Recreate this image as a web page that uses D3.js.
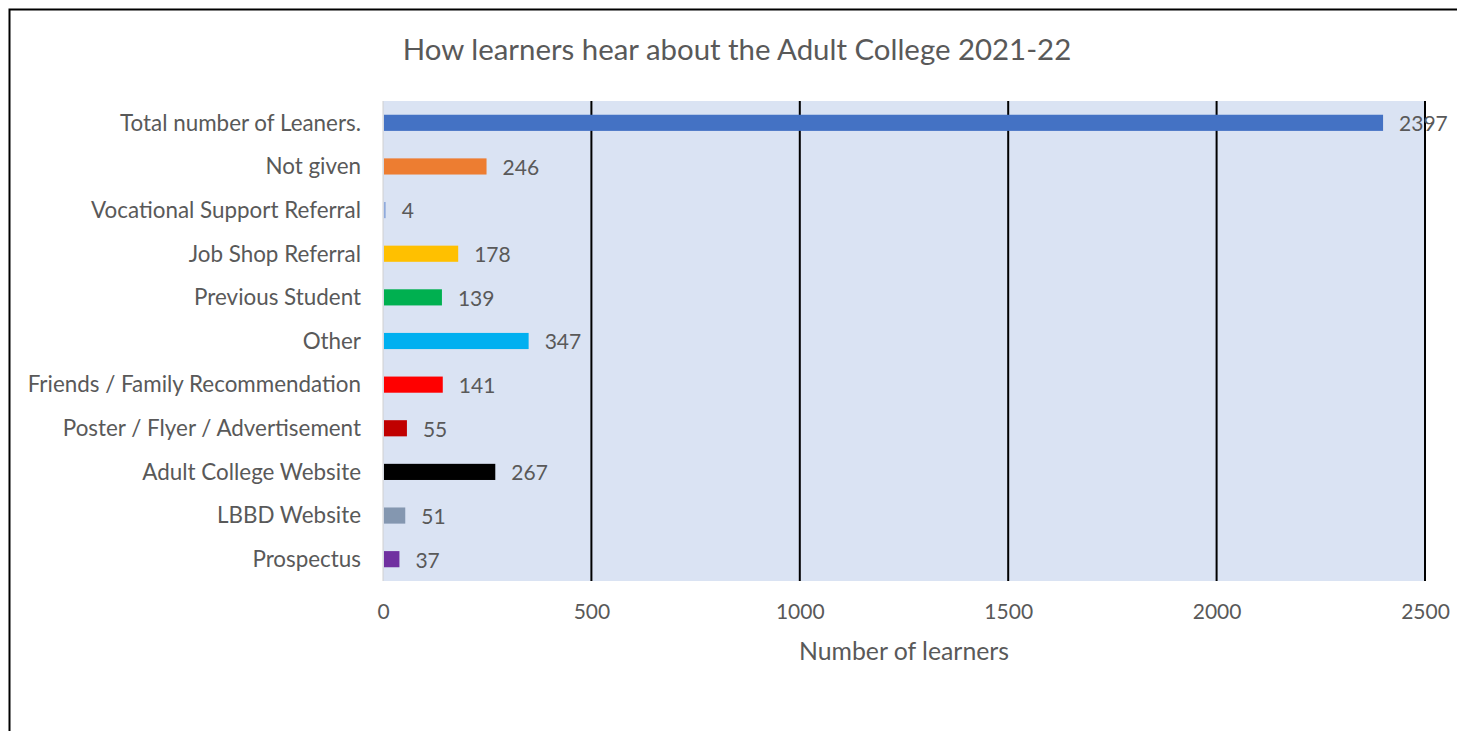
<!DOCTYPE html>
<html>
<head>
<meta charset="utf-8">
<script src="https://cdn.jsdelivr.net/npm/d3@7"></script>
<style>
  body { margin: 0; background: #fff; }
  text { font-family: Lato, "Open Sans", sans-serif; fill: #595959; }
</style>
</head>
<body>
<svg id="chart"></svg>
<script>
const categories = [
    "Total number of Leaners.",
    "Not given ",
    "Vocational Support Referral",
    "Job Shop Referral",
    "Previous Student",
    "Other",
    "Friends / Family Recommendation",
    "Poster / Flyer / Advertisement",
    "Adult College Website",
    "LBBD Website",
    "Prospectus"
];
const values = [2397, 246, 4, 178, 139, 347, 141, 55, 267, 51, 37];
const barColors = ["#4472c4", "#ed7d31", "#8faadc", "#ffc000", "#00b050", "#00b0f0",
    "#ff0000", "#c00000", "#000000", "#8497b0", "#7030a0"];
const ticks = [0, 500, 1000, 1500, 2000, 2500];

const width = 1457;
const height = 731;
const margin = { top: 101, right: 32, bottom: 150, left: 383 };

const svg = d3.select("#chart")
    .attr("width", width)
    .attr("height", height);

// outer frame
svg.append("path")
    .attr("d", `M9.5,${height} V9.5 H${width}`)
    .attr("fill", "none")
    .attr("stroke", "#000")
    .attr("stroke-width", 2);

const x = d3.scaleLinear()
    .domain([0, 2500])
    .range([margin.left, width - margin.right]);

const y = d3.scaleBand()
    .domain(categories)
    .range([margin.top, height - margin.bottom])
    .paddingInner(0.63)
    .paddingOuter(0.315);

svg.append("rect")
    .attr("x", x(0))
    .attr("y", margin.top)
    .attr("width", x(2500) - x(0))
    .attr("height", height - margin.bottom - margin.top)
    .attr("fill", "#dae3f3");

// gridlines
svg.selectAll("line.grid")
    .data(ticks.slice(1))
    .enter()
    .append("line")
    .attr("class", "grid")
    .attr("x1", d => x(d))
    .attr("x2", d => x(d))
    .attr("y1", margin.top)
    .attr("y2", height - margin.bottom)
    .attr("stroke", "#000")
    .attr("stroke-width", 2);

svg.append("line")
    .attr("x1", x(0)).attr("x2", x(0))
    .attr("y1", margin.top).attr("y2", height - margin.bottom)
    .attr("stroke", "#d0d0d0")
    .attr("stroke-width", 1);

svg.selectAll("rect.bar")
    .data(values)
    .enter()
    .append("rect")
    .attr("class", "bar")
    .attr("x", x(0) + 1)
    .attr("y", (d, i) => y(categories[i]))
    .attr("width", d => x(d) - x(0))
    .attr("height", y.bandwidth())
    .attr("fill", (d, i) => barColors[i]);

svg.selectAll("text.val")
    .data(values)
    .enter()
    .append("text")
    .attr("class", "val")
    .attr("x", d => x(d) + 17)
    .attr("y", (d, i) => y(categories[i]) + y.bandwidth() / 2 + 1)
    .attr("dy", "0.35em")
    .style("font-size", "21px")
    .text(d => d);

svg.selectAll("text.cat")
    .data(categories)
    .enter()
    .append("text")
    .attr("class", "cat")
    .attr("x", 361)
    .attr("y", d => y(d) + y.bandwidth() / 2)
    .attr("dy", "0.35em")
    .attr("text-anchor", "end")
    .style("font-size", "22.4px")
    .text(d => d);

const xAxis = svg.append("g")
    .attr("transform", `translate(0, ${height - margin.bottom})`)
    .call(d3.axisBottom(x).tickValues(ticks).tickFormat(d3.format("d")).tickSize(0).tickPadding(23));
xAxis.select(".domain").remove();
xAxis.selectAll("text")
    .style("font-size", "21px")
    .style("font-family", "Lato, sans-serif")
    .attr("fill", "#595959");

svg.append("text")
    .attr("x", x(1250))
    .attr("y", 660)
    .attr("text-anchor", "middle")
    .style("font-size", "24.8px")
    .text("Number of learners");

svg.append("text")
    .attr("x", 737)
    .attr("y", 60)
    .attr("text-anchor", "middle")
    .style("font-size", "29.4px")
    .text("How learners hear about the Adult College 2021-22");
</script>
</body>
</html>
